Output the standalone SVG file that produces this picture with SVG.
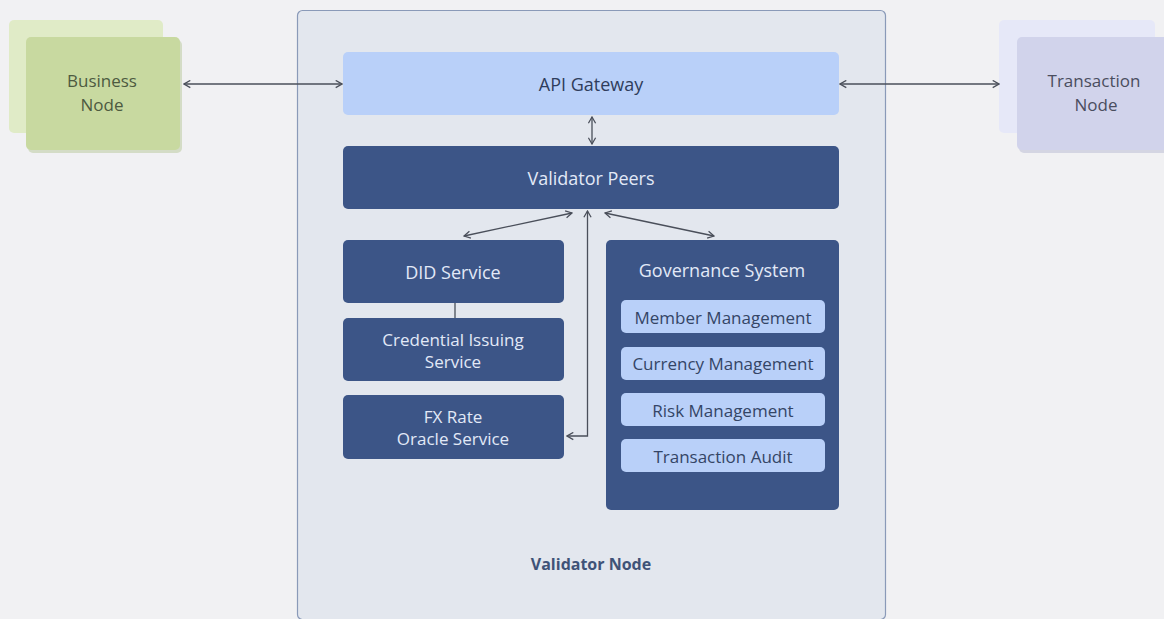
<svg xmlns="http://www.w3.org/2000/svg" width="1164" height="619" viewBox="0 0 1164 619">
<defs>
<style>
text{font-family:"Open Sans","Noto Sans","Liberation Sans",sans-serif;text-anchor:middle;dominant-baseline:central}
.dark{fill:#3c5587}
.dt{fill:#e2e9f7;font-size:18px}
.dt2{fill:#e2e9f7;font-size:17px}
.lt{fill:#b9d0f9}
.ltt{fill:#344566;font-size:17px}
.conn{stroke:#4a4f5a;stroke-width:1.3;fill:none}
</style>
<marker id="ah" viewBox="0 0 10 10" refX="9" refY="5" markerWidth="9" markerHeight="9" markerUnits="userSpaceOnUse" orient="auto-start-reverse">
<path d="M2,1 L9,5 L2,9" fill="none" stroke="#4a4f5a" stroke-width="1.4"/>
</marker>
</defs>
<rect width="1164" height="619" fill="#f1f1f3"/>
<g id="validator-node">
<rect x="297.5" y="10.5" width="588" height="609" rx="5" fill="#e3e7ee" stroke="#8a9ab8" stroke-width="1.2"/>
<text x="591" y="564" style="font-size:16px;font-weight:bold;fill:#3f5378">Validator Node</text>
</g>
<g id="business-node">
<rect x="9" y="20" width="154" height="113" rx="5" fill="#e0ebc7"/>
<rect x="28" y="40" width="154" height="113" rx="5" fill="#b8c79a" opacity="0.5"/>
<rect x="26" y="37" width="154" height="113" rx="5" fill="#c8d9a0"/>
<text x="102" y="80" style="font-size:17px;fill:#4d5a40">Business</text>
<text x="102" y="104" style="font-size:17px;fill:#4d5a40">Node</text>
</g>
<g id="transaction-node">
<rect x="999" y="20" width="156" height="113" rx="5" fill="#e6e8f8"/>
<rect x="1019" y="40" width="156" height="113" rx="5" fill="#b7b9d2" opacity="0.5"/>
<rect x="1017" y="37" width="156" height="113" rx="5" fill="#d1d3eb"/>
<text x="1094" y="80" style="font-size:17px;fill:#4a4d5e">Transaction</text>
<text x="1096" y="104" style="font-size:17px;fill:#4a4d5e">Node</text>
</g>
<g id="api-gateway">
<rect x="343" y="52" width="496" height="63" rx="5" class="lt"/>
<text x="591" y="84" style="font-size:18px;fill:#2f3d5c">API Gateway</text>
</g>
<g id="validator-peers">
<rect x="343" y="146" width="496" height="63" rx="5" class="dark"/>
<text x="591" y="178" class="dt">Validator Peers</text>
</g>
<g id="did-service">
<rect x="343" y="240" width="221" height="63" rx="5" class="dark"/>
<text x="453" y="272" class="dt">DID Service</text>
</g>
<g id="credential-issuing-service">
<rect x="343" y="318" width="221" height="63" rx="5" class="dark"/>
<text x="453" y="339" class="dt2">Credential Issuing</text>
<text x="453" y="361" class="dt2">Service</text>
</g>
<g id="fx-rate-oracle-service">
<rect x="343" y="395" width="221" height="64" rx="5" class="dark"/>
<text x="453" y="416" class="dt2">FX Rate</text>
<text x="453" y="438" class="dt2">Oracle Service</text>
</g>
<g id="governance-system">
<rect x="606" y="240" width="233" height="270" rx="5" class="dark"/>
<text x="722" y="270" class="dt">Governance System</text>
<g id="member-management">
<rect x="621" y="300" width="204" height="33" rx="5" class="lt"/>
<text x="723" y="317" class="ltt">Member Management</text>
</g>
<g id="currency-management">
<rect x="621" y="347" width="204" height="33" rx="5" class="lt"/>
<text x="723" y="363" class="ltt">Currency Management</text>
</g>
<g id="risk-management">
<rect x="621" y="393" width="204" height="33" rx="5" class="lt"/>
<text x="723" y="410" class="ltt">Risk Management</text>
</g>
<g id="transaction-audit">
<rect x="621" y="439" width="204" height="33" rx="5" class="lt"/>
<text x="723" y="456" class="ltt">Transaction Audit</text>
</g>
</g>
<g id="connectors">
<line x1="184" y1="84" x2="342" y2="84" class="conn" marker-start="url(#ah)" marker-end="url(#ah)"/>
<line x1="840" y1="84" x2="999" y2="84" class="conn" marker-start="url(#ah)" marker-end="url(#ah)"/>
<line x1="592" y1="117" x2="592" y2="144" class="conn" marker-start="url(#ah)" marker-end="url(#ah)"/>
<line x1="464" y1="236" x2="572" y2="213" class="conn" marker-start="url(#ah)" marker-end="url(#ah)"/>
<line x1="605" y1="213" x2="714" y2="236" class="conn" marker-start="url(#ah)" marker-end="url(#ah)"/>
<polyline points="587.5,211 587.5,436 567,436" class="conn" marker-start="url(#ah)" marker-end="url(#ah)"/>
<line x1="455" y1="303" x2="455" y2="318" class="conn"/>
</g>
</svg>
